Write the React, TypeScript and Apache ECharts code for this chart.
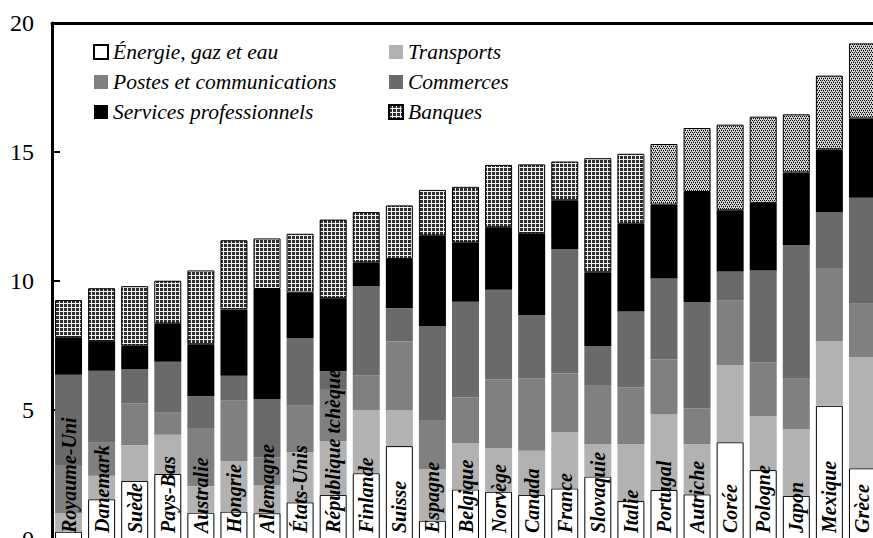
import React, { useEffect, useRef } from "react";
import * as echarts from "echarts";

const countries = [
  "Royaume-Uni", "Danemark", "Suède", "Pays-Bas", "Australie", "Hongrie", "Allemagne",
  "États-Unis", "République tchèque", "Finlande", "Suisse", "Espagne", "Belgique", "Norvège",
  "Canada", "France", "Slovaquie", "Italie", "Portugal", "Autriche", "Corée", "Pologne",
  "Japon", "Mexique", "Grèce",
];

const energie = [0.28, 1.54, 2.25, 2.52, 1.02, 1.06, 1.0, 1.42, 1.71, 2.55, 3.6, 0.71, 1.92, 1.83, 1.71, 1.96, 2.42, 1.47, 1.9, 1.73, 3.75, 2.67, 1.67, 5.16, 2.74];
const transports = [0.72, 0.91, 1.39, 1.52, 1.03, 1.96, 1.07, 1.95, 2.09, 2.45, 1.4, 2.0, 1.79, 1.7, 1.71, 2.19, 1.24, 2.21, 2.93, 1.95, 2.98, 2.1, 2.58, 2.5, 4.3];
const postes = [1.87, 1.28, 1.62, 0.88, 2.25, 2.34, 1.1, 1.79, 1.98, 1.34, 2.65, 1.9, 1.78, 2.65, 2.81, 2.26, 2.31, 2.19, 2.13, 1.39, 2.52, 2.08, 1.96, 2.84, 2.08];
const commerces = [3.5, 2.79, 1.33, 1.95, 1.23, 0.97, 2.26, 2.63, 0.72, 3.45, 1.3, 3.65, 3.71, 3.48, 2.45, 4.82, 1.51, 2.95, 3.14, 4.12, 1.12, 3.56, 5.19, 2.17, 4.11];
const services = [1.45, 1.15, 0.91, 1.48, 2.02, 2.57, 4.26, 1.76, 2.83, 0.93, 1.9, 3.5, 2.29, 2.42, 3.17, 1.9, 2.86, 3.4, 2.86, 4.26, 2.37, 2.61, 2.81, 2.43, 3.07];
const banques = [1.44, 2.05, 2.3, 1.66, 2.86, 2.68, 1.96, 2.28, 3.05, 1.95, 2.08, 1.77, 2.16, 2.42, 2.67, 1.5, 4.42, 2.71, 2.35, 2.48, 3.32, 3.35, 2.25, 2.86, 2.91];

const seriesNames = [
  "Énergie, gaz et eau", "Transports", "Postes et communications",
  "Commerces", "Services professionnels", "Banques",
];
// Countries whose "Banques" segment is drawn with the dotted texture
const dottedBanks = ["Portugal", "Autriche", "Corée", "Pologne", "Japon", "Mexique", "Grèce"];

const SERIF = "Liberation Serif";

function makePattern(kind: "grid" | "dots") {
  const c = document.createElement("canvas");
  c.width = 4;
  c.height = 4;
  const ctx = c.getContext("2d")!;
  if (kind === "grid") {
    ctx.fillStyle = "#2e2e2e";
    ctx.fillRect(0, 0, 4, 4);
    ctx.fillStyle = "#f2f2f2";
    ctx.fillRect(3, 0, 1, 4);
    ctx.fillRect(0, 3, 4, 1);
  } else {
    ctx.fillStyle = "#d8d8d8";
    ctx.fillRect(0, 0, 4, 4);
    ctx.fillStyle = "#000";
    ctx.fillRect(0, 0, 1, 1);
    ctx.fillRect(2, 0, 1, 1);
    ctx.fillRect(1, 2, 1, 1);
    ctx.fillRect(3, 2, 1, 1);
    ctx.fillStyle = "#666";
    ctx.fillRect(1, 1, 1, 1);
    ctx.fillRect(3, 3, 1, 1);
  }
  return { image: c, repeat: "repeat", imageWidth: 4, imageHeight: 4 } as any;
}

export default function App() {
  const ref = useRef<HTMLDivElement>(null);

  useEffect(() => {
    if (!ref.current) return;
    const chart = echarts.init(ref.current, null, { renderer: "svg" });
    const gridPat = makePattern("grid");
    const dotPat = makePattern("dots");

    const legendText = {
      fontFamily: SERIF,
      fontStyle: "italic",
      fontSize: 21.5,
      color: "#000",
    };

    const legendBase = {
      orient: "vertical",
      top: 41,
      padding: 0,
      itemWidth: 14,
      itemHeight: 14,
      itemGap: 8,
      icon: "rect",
      selectedMode: false,
      textStyle: legendText,
    };

    const option: any = {
      animation: false,
      backgroundColor: "#fff",
      textStyle: { fontFamily: SERIF },
      grid: {
        left: 52,
        top: 23,
        width: 827,
        height: 516,
        containLabel: false,
        outerBoundsMode: "none",
      },
      legend: [
        { ...legendBase, left: 93, data: [seriesNames[0], seriesNames[2], seriesNames[4]] },
        { ...legendBase, left: 388, data: [seriesNames[1], seriesNames[3], seriesNames[5]] },
      ],
      xAxis: [
        {
          type: "category",
          data: countries,
          position: "bottom",
          z: 10,
          axisLine: { show: false },
          axisTick: { show: false },
          axisLabel: {
            inside: true,
            rotate: 90,
            interval: 0,
            margin: 6,
            fontFamily: SERIF,
            fontSize: 20,
            fontWeight: "bold",
            fontStyle: "italic",
            color: "#000",
          },
        },
        {
          type: "category",
          data: countries,
          position: "top",
          axisLine: { show: true, lineStyle: { color: "#000", width: 3 } },
          axisTick: { show: false },
          axisLabel: { show: false },
        },
      ],
      yAxis: {
        type: "value",
        min: 0,
        max: 20,
        interval: 5,
        splitLine: { show: false },
        axisLine: { show: true, lineStyle: { color: "#000", width: 3 } },
        axisTick: { show: true, inside: true, length: 8, lineStyle: { color: "#000", width: 2 } },
        axisLabel: { margin: 18, fontFamily: SERIF, fontSize: 24, color: "#000" },
      },
      series: [
        {
          name: seriesNames[0],
          type: "bar",
          stack: "total",
          barWidth: 27,
          data: energie,
          itemStyle: { color: "#ffffff", borderColor: "#000", borderWidth: 1 },
        },
        {
          name: seriesNames[1],
          type: "bar",
          stack: "total",
          barWidth: 27,
          data: transports,
          itemStyle: { color: "#b2b2b2" },
        },
        {
          name: seriesNames[2],
          type: "bar",
          stack: "total",
          barWidth: 27,
          data: postes,
          itemStyle: { color: "#808080" },
        },
        {
          name: seriesNames[3],
          type: "bar",
          stack: "total",
          barWidth: 27,
          data: commerces,
          itemStyle: { color: "#6a6a6a" },
        },
        {
          name: seriesNames[4],
          type: "bar",
          stack: "total",
          barWidth: 27,
          data: services,
          itemStyle: { color: "#000000" },
        },
        {
          name: seriesNames[5],
          type: "bar",
          stack: "total",
          barWidth: 27,
          data: banques.map((v, i) =>
            dottedBanks.includes(countries[i])
              ? { value: v, itemStyle: { color: dotPat } }
              : v
          ),
          itemStyle: { color: gridPat, borderColor: "#000", borderWidth: 1 },
        },
      ],
    };
    chart.setOption(option);
    return () => chart.dispose();
  }, []);

  return (
    <div
      ref={ref}
      style={{ position: "fixed", left: 0, top: 0, width: 873, height: 538, background: "#fff" }}
    />
  );
}
